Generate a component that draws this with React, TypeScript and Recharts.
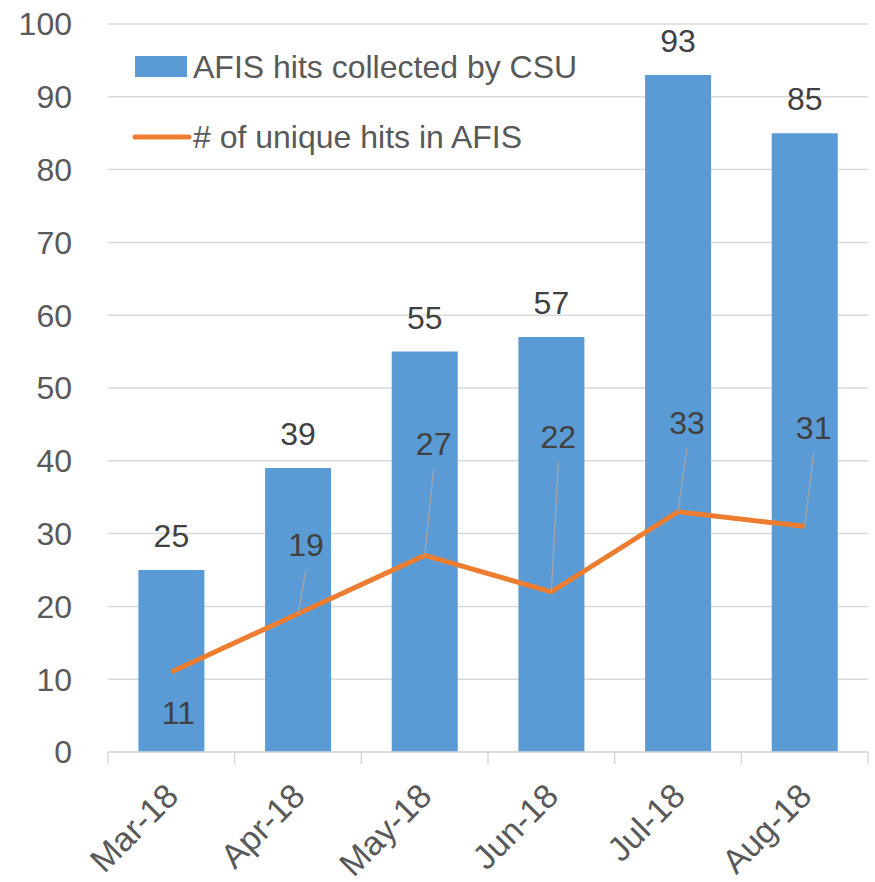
import React from 'react'
import {
  ComposedChart,
  Bar,
  Line,
  XAxis,
  YAxis,
  CartesianGrid,
  Legend,
  LabelList,
} from 'recharts'

const months = ['Mar-18', 'Apr-18', 'May-18', 'Jun-18', 'Jul-18', 'Aug-18']
const csuHits = [25, 39, 55, 57, 93, 85]
const uniqueHits = [11, 19, 27, 22, 33, 31]
const yTicks = [0, 10, 20, 30, 40, 50, 60, 70, 80, 90, 100]

// hand-placed label offsets (px) for the line labels, like in the original sheet
const lineLabelOffsets = [
  [7, 41],
  [8, -69],
  [9, -112],
  [7, -155],
  [9, -89],
  [9, -99],
]

const data = months.map((m, i) => ({ month: m, csu: csuHits[i], unique: uniqueHits[i] }))

const W = 875
const H = 882
const margin = { top: 24, right: 7, bottom: 0, left: 0 }
const xAxisH = 130
const yAxisW = 108
const step = (W - margin.left - margin.right - yAxisW) / months.length

const FONT = 'Liberation Sans, Arial, sans-serif'
const BLUE = '#5B9BD5'
const ORANGE = '#ED7D31'
const GRID = '#D9D9D9'
const TICK = '#595959'
const LABEL = '#404040'

const MonthTick = ({ x, y, payload, index }: any) => {
  const left = x - step / 2
  return (
    <g>
      <line x1={left} y1={y} x2={left} y2={y + 12} stroke={GRID} strokeWidth={1.5} />
      {index === months.length - 1 && (
        <line x1={x + step / 2} y1={y} x2={x + step / 2} y2={y + 12} stroke={GRID} strokeWidth={1.5} />
      )}
      <text
        x={x + 9}
        y={y + 46}
        textAnchor="end"
        transform={`rotate(-45 ${x + 9} ${y + 46})`}
        fill={TICK}
        fontSize={34}
        fontFamily={FONT}
      >
        {payload.value}
      </text>
    </g>
  )
}

const UniqueLabel = (props: any) => {
  const { x, y, value, index } = props
  let i = index
  if (i == null) i = uniqueHits.indexOf(value)
  const [dx, dy] = lineLabelOffsets[i] || [0, -20]
  const cx = x + dx
  const cy = y + dy
  return (
    <g>
      {dy < 0 && (
        <line x1={cx} y1={cy + 25} x2={x} y2={y} stroke="#A6A6A6" strokeWidth={1.2} />
      )}
      <text
        x={cx}
        y={cy}
        dy="0.355em"
        textAnchor="middle"
        fill={LABEL}
        fontSize={32}
        fontFamily={FONT}
      >
        {value}
      </text>
    </g>
  )
}

const LegendBox = () => (
  <svg width={480} height={110}>
    <rect x={5} y={6} width={52} height={21} fill={BLUE} />
    <text x={63} y={16.5} dy="0.355em" fill={TICK} fontSize={32} fontFamily={FONT}>
      AFIS hits collected by CSU
    </text>
    <line x1={5} y1={87} x2={59} y2={87} stroke={ORANGE} strokeWidth={5} strokeLinecap="round" />
    <text x={63} y={87} dy="0.355em" fill={TICK} fontSize={32} fontFamily={FONT}>
      # of unique hits in AFIS
    </text>
  </svg>
)

export default function App() {
  return (
    <div style={{ position: 'absolute', left: 0, top: 0, width: W, height: H, background: '#fff' }}>
      <ComposedChart width={W} height={H} data={data} margin={margin} barCategoryGap="24%">
        <CartesianGrid vertical={false} stroke={GRID} strokeWidth={1.5} />
        <XAxis
          dataKey="month"
          interval={0}
          height={xAxisH}
          axisLine={{ stroke: GRID, strokeWidth: 1.5 }}
          tickLine={false}
          tickSize={0}
          tickMargin={0}
          tick={<MonthTick />}
        />
        <YAxis
          width={yAxisW}
          domain={[0, 100]}
          ticks={yTicks}
          interval={0}
          axisLine={false}
          tickLine={false}
          tickSize={0}
          tickMargin={36}
          tick={{ fill: TICK, fontSize: 32, fontFamily: FONT }}
        />
        <Legend
          layout="vertical"
          align="center"
          verticalAlign="middle"
          content={<LegendBox />}
          wrapperStyle={{ left: 130, top: 50, width: 480, height: 110 }}
        />
        <Bar dataKey="csu" name="AFIS hits collected by CSU" fill={BLUE} isAnimationActive={false}>
          <LabelList
            dataKey="csu"
            position="top"
            offset={23}
            fill={LABEL}
            fontSize={32}
            fontFamily={FONT}
          />
        </Bar>
        <Line
          dataKey="unique"
          name="# of unique hits in AFIS"
          type="linear"
          stroke={ORANGE}
          strokeWidth={5}
          dot={false}
          activeDot={false}
          isAnimationActive={false}
        >
          <LabelList dataKey="unique" content={<UniqueLabel />} />
        </Line>
      </ComposedChart>
    </div>
  )
}
